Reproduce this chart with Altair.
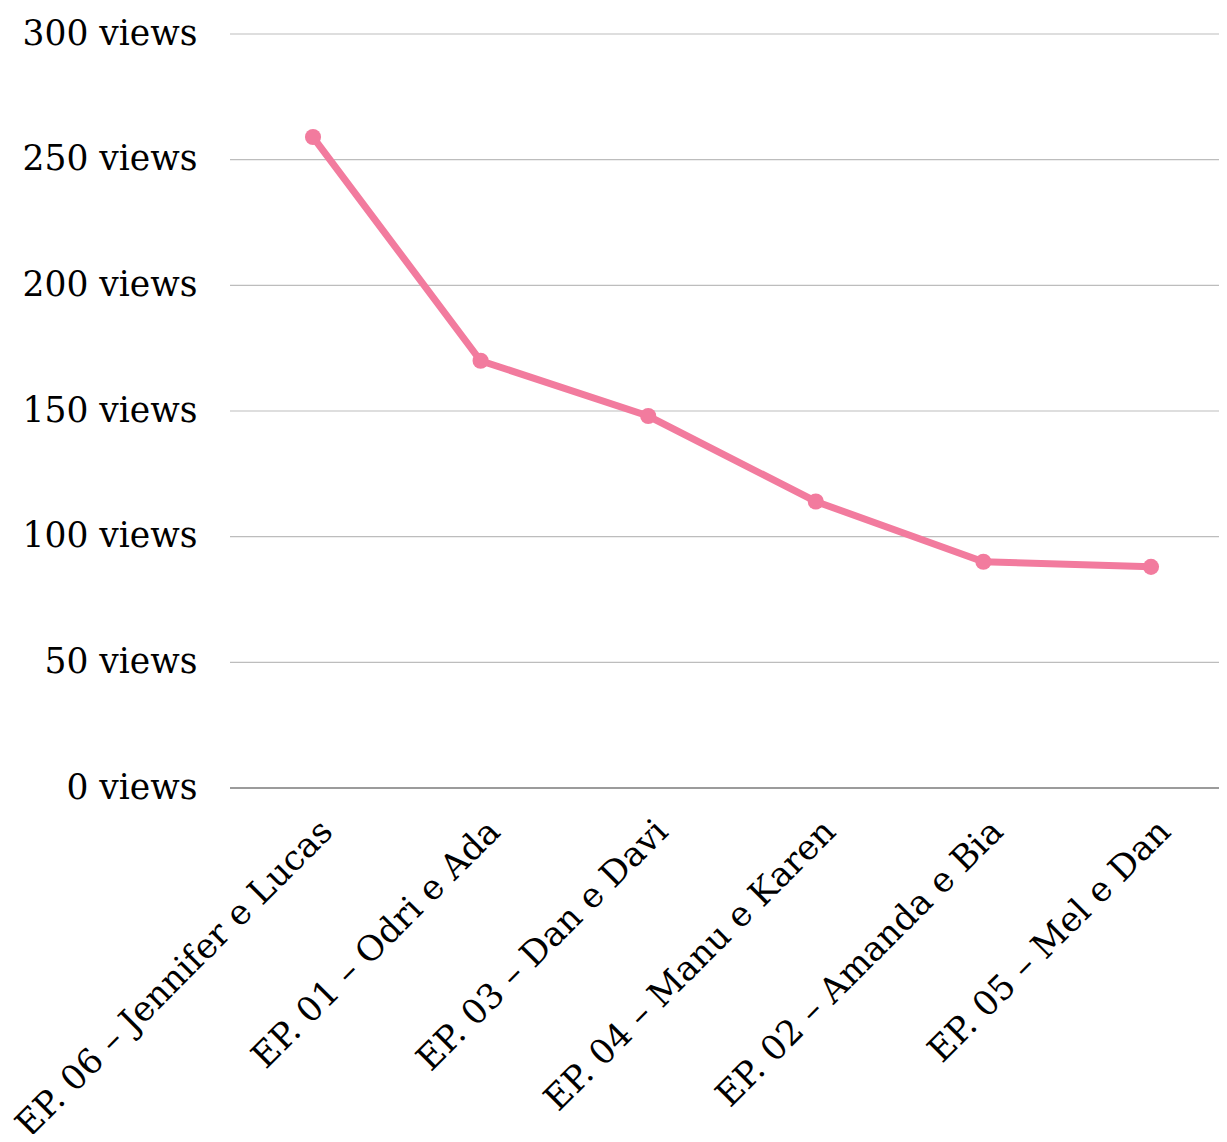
import altair as alt
import pandas as pd

episodes = [
    "EP. 06 – Jennifer e Lucas",
    "EP. 01 – Odri e Ada",
    "EP. 03 – Dan e Davi",
    "EP. 04 – Manu e Karen",
    "EP. 02 – Amanda e Bia",
    "EP. 05 – Mel e Dan",
]
views = [259, 170, 148, 114, 90, 88]
grid_values = [50, 100, 150, 200, 250, 300]
zero_value = [0]

df = pd.DataFrame({"episode": episodes, "views": views})
grid_df = pd.DataFrame({"views": grid_values})
zero_df = pd.DataFrame({"views": zero_value})

FONT = "DejaVu Serif"
PINK = "#F27B9E"
FS = 34.5

x = alt.X(
    "episode:N",
    sort=episodes,
    scale=alt.Scale(type="point", range=[83, 921], padding=0),
    axis=alt.Axis(
        title=None,
        labelAngle=-45,
        labelAlign="right",
        labelBaseline="middle",
        labelFont=FONT,
        labelFontSize=FS,
        labelColor="#000000",
        labelPadding=38,
        labelOffset=14,
        ticks=False,
        domain=False,
        grid=False,
        labelOverlap=False,
        labelLimit=0,
    ),
)
y = alt.Y(
    "views:Q",
    scale=alt.Scale(domain=[0, 300], nice=False),
    axis=alt.Axis(
        title=None,
        values=[0, 50, 100, 150, 200, 250, 300],
        labelExpr="datum.value + ' views'",
        labelFont=FONT,
        labelFontSize=FS,
        labelColor="#000000",
        labelPadding=33,
        ticks=False,
        domain=False,
        grid=False,
    ),
)

grid = alt.Chart(grid_df).mark_rule(color="#bdbdbd", strokeWidth=1.2).encode(
    y=y, x=alt.value(0), x2=alt.value(989)
)
zero = alt.Chart(zero_df).mark_rule(color="#7a7a7a", strokeWidth=1.5).encode(
    y=y, x=alt.value(0), x2=alt.value(989)
)
line = alt.Chart(df).mark_line(color=PINK, strokeWidth=7).encode(x=x, y=y)
pts = alt.Chart(df).mark_point(filled=True, color=PINK, size=260, opacity=1).encode(x=x, y=y)

chart = (
    alt.layer(grid, zero, line, pts)
    .properties(
        width=989,
        height=754,
        background="white",
        autosize=alt.AutoSizeParams(type="none"),
        padding={"left": 222, "top": 26, "right": 0, "bottom": 346},
    )
    .configure_view(strokeWidth=0, stroke="transparent")
)

chart.save("out.html", embed_options={"renderer": "svg", "actions": False})
